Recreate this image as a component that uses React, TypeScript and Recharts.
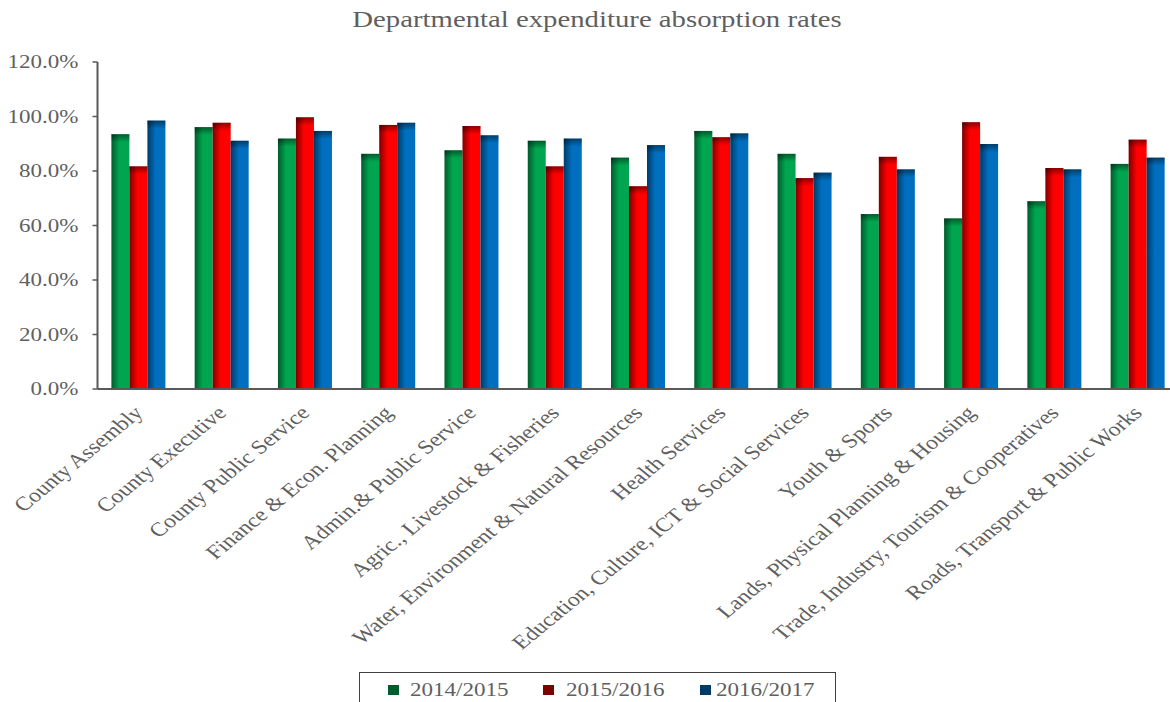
import React from "react";
import { Bar, BarChart, XAxis, YAxis } from "recharts";

const departments = [
  "County Assembly",
  "County Executive",
  "County Public Service",
  "Finance & Econ. Planning",
  "Admin.& Public Service",
  "Agric., Livestock & Fisheries",
  "Water, Environment & Natural Resources",
  "Health Services",
  "Education, Culture, ICT & Social Services",
  "Youth & Sports",
  "Lands, Physical Planning & Housing",
  "Trade, Industry, Tourism & Cooperatives",
  "Roads, Transport & Public Works",
];

const fy2014 = [93.5, 96.1, 91.9, 86.3, 87.6, 91.1, 84.9, 94.7, 86.3, 64.2, 62.6, 68.9, 82.6];
const fy2015 = [81.7, 97.7, 99.7, 96.9, 96.5, 81.7, 74.4, 92.4, 77.4, 85.2, 97.9, 81.1, 91.5];
const fy2016 = [98.5, 91.1, 94.7, 97.7, 93.1, 91.9, 89.5, 93.8, 79.4, 80.6, 89.9, 80.6, 84.9];

const seriesNames = ["2014/2015", "2015/2016", "2016/2017"];
const yTicks = [0, 20, 40, 60, 80, 100, 120];

const FONT = '"Liberation Serif", "Times New Roman", serif';
const TEXT = "#5f5f5f";
const AXIS = "#595959";

const palette = [
  { id: "g-green", dark: "#005c2d", light: "#00a64f", key: "y2014" },
  { id: "g-red", dark: "#7f0000", light: "#ff0000", key: "y2015" },
  { id: "g-blue", dark: "#003a66", light: "#006fbf", key: "y2016" },
];

const data = departments.map((name, i) => ({
  name,
  y2014: fy2014[i],
  y2015: fy2015[i],
  y2016: fy2016[i],
}));

function makeShape(gradId: string) {
  return (props: any) => {
    const { x, y, width, height } = props;
    if (!height || height <= 0) return <g />;
    return (
      <g>
        <rect x={x} y={y} width={width} height={height} fill={`url(#${gradId})`} />
        <rect x={x} y={y} width={width} height={Math.min(8, height)} fill="url(#top-shade)" />
      </g>
    );
  };
}

function YTick(props: any) {
  const { x, y, payload } = props;
  return (
    <text
      transform={`translate(${x},${y}) scale(1.28,1)`}
      textAnchor="end"
      dy="0.35em"
      fill={TEXT}
      fontSize={18}
      fontFamily={FONT}
    >
      {`${Number(payload.value).toFixed(1)}%`}
    </text>
  );
}

function XTick(props: any) {
  const { x, y, payload } = props;
  return (
    <text
      transform={`translate(${x + 5},${y + 25}) scale(1.22,1) rotate(-45)`}
      textAnchor="end"
      fill={TEXT}
      fontSize={19.6}
      fontFamily={FONT}
    >
      {payload.value}
    </text>
  );
}

export default function App() {
  return (
    <div
      style={{
        position: "absolute",
        left: 0,
        top: 0,
        width: 1170,
        height: 702,
        overflow: "hidden",
        background: "#fff",
        fontFamily: FONT,
      }}
    >
      <div
        style={{
          position: "absolute",
          left: 597,
          top: 6,
          transform: "translateX(-50%) scaleX(1.25)",
          whiteSpace: "nowrap",
          fontSize: 23,
          color: TEXT,
          lineHeight: "28px",
        }}
      >
        Departmental expenditure absorption rates
      </div>

      <BarChart
        width={1180}
        height={702}
        data={data}
        margin={{ top: 62, right: 0, bottom: 0, left: 0 }}
        barCategoryGap="16.7%"
        barGap={0}
      >
        <defs>
          {palette.map((p) => (
            <linearGradient key={p.id} id={p.id} x1="0" y1="0" x2="1" y2="0">
              <stop offset="0%" stopColor={p.dark} />
              <stop offset="45%" stopColor={p.light} />
              <stop offset="100%" stopColor={p.light} />
            </linearGradient>
          ))}
          <linearGradient id="top-shade" x1="0" y1="0" x2="0" y2="1">
            <stop offset="0%" stopColor="#000" stopOpacity={0.45} />
            <stop offset="100%" stopColor="#000" stopOpacity={0} />
          </linearGradient>
        </defs>
        <XAxis
          dataKey="name"
          interval={0}
          height={313}
          tickLine={false}
          tickSize={0}
          tickMargin={0}
          tick={<XTick />}
          axisLine={{ stroke: AXIS, strokeWidth: 2 }}
        />
        <YAxis
          width={97.5}
          domain={[0, 120]}
          ticks={yTicks}
          tickSize={5}
          tickMargin={14}
          tick={<YTick />}
          axisLine={{ stroke: AXIS, strokeWidth: 2 }}
          tickLine={{ stroke: AXIS, strokeWidth: 1.5 }}
        />
        {palette.map((p, i) => (
          <Bar
            key={p.key}
            dataKey={p.key}
            name={seriesNames[i]}
            fill={p.light}
            shape={makeShape(p.id)}
            isAnimationActive={false}
          />
        ))}
      </BarChart>

      <div
        style={{
          position: "absolute",
          left: 359,
          top: 672,
          width: 477,
          height: 40,
          border: "1.5px solid #404040",
          boxSizing: "border-box",
        }}
      >
        {seriesNames.map((name, i) => {
          const sq = [28, 183, 340][i];
          const tx = [50, 206, 356][i];
          return (
            <React.Fragment key={name}>
              <div
                style={{
                  position: "absolute",
                  left: sq,
                  top: 12,
                  width: 11,
                  height: 10,
                  background: palette[i].dark,
                }}
              />
              <div
                style={{
                  position: "absolute",
                  left: tx,
                  top: 5,
                  fontSize: 18,
                  lineHeight: "24px",
                  color: TEXT,
                  whiteSpace: "nowrap",
                  transform: "scaleX(1.28)",
                  transformOrigin: "left center",
                }}
              >
                {name}
              </div>
            </React.Fragment>
          );
        })}
      </div>
    </div>
  );
}
